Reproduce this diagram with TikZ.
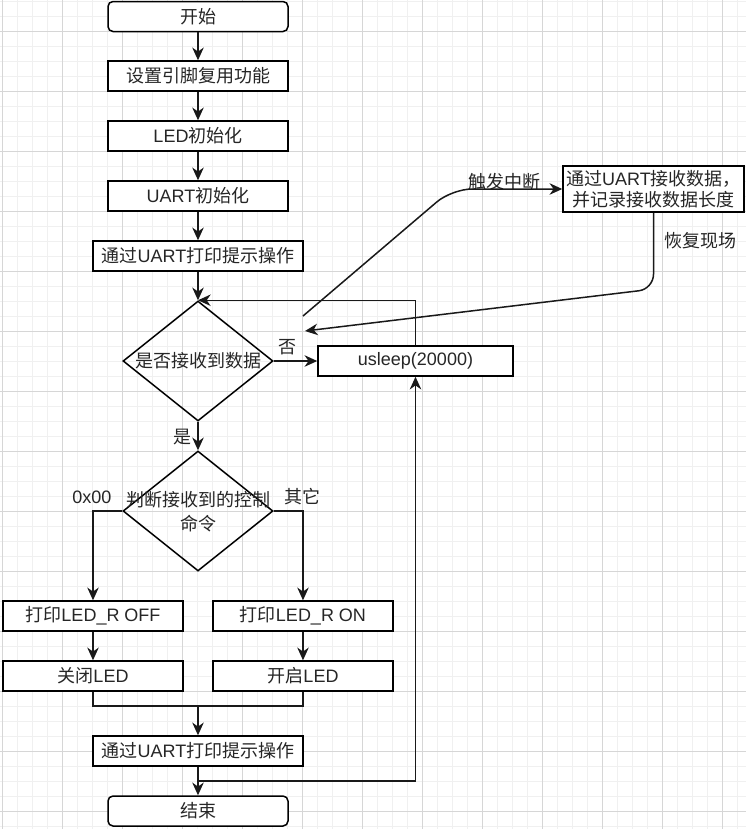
\documentclass[tikz,border=0pt]{standalone}
\usepackage{fontspec}
\setmainfont{Noto Sans CJK SC}
\newfontfamily\latf{Liberation Sans}
\usetikzlibrary{arrows.meta,shapes.geometric}
\newcommand{\pxu}{0.75pt}
\newcommand{\La}[1]{{\latf #1}}
\tikzset{
  minorgrid/.style={draw=black!6, line width=0.75pt},
  majorgrid/.style={draw=black!16, line width=0.75pt},
  box/.style={draw=black, line width=1.125pt, fill=white, minimum width=180*\pxu, minimum height=30*\pxu, inner sep=0pt, font=\fontsize{13.5pt}{16pt}\selectfont, align=center, text=black!85},
  wbox/.style={box, minimum width=210*\pxu},
  term/.style={box, rounded corners=5*\pxu},
  dia/.style={draw=black, shape=diamond, line width=1.125pt, minimum width=150*\pxu, minimum height=120*\pxu, inner sep=0pt},
  txt/.style={font=\fontsize{13.5pt}{16pt}\selectfont, inner sep=0pt, align=center, text=black!85},
  lbl/.style={txt},
  wire/.style={line width=1.125pt, draw=black!90},
  conn/.style={wire, -{Stealth[length=9.5pt,width=8.6pt,inset=3pt]}}
}
\begin{document}
\begin{tikzpicture}[x=0.75pt,y=-0.75pt]
\fill[white] (0,0) rectangle (746,829);
\useasboundingbox (0,0) rectangle (746,829);
\foreach \x in {2,17,...,746} \draw[minorgrid] (\x,0) -- (\x,829);
\foreach \y in {1,16,...,829} \draw[minorgrid] (0,\y) -- (746,\y);
\foreach \x in {2,62,...,746} \draw[majorgrid] (\x,0) -- (\x,829);
\foreach \y in {31,91,...,829} \draw[majorgrid] (0,\y) -- (746,\y);

% nodes
\node[term] (start) at (198,16.5) {开始};
\node[box] (s1) at (198,76) {设置引脚复用功能};
\node[box] (s2) at (198,136) {\La{LED}初始化};
\node[box] (s3) at (198,196) {\La{UART}初始化};
\node[wbox] (s4) at (198,256) {通过\La{UART}打印提示操作};
\node[dia] (d1) at (198,361) {};
\node[txt] (t1) at (198,361) {是否接收到数据};
\node[box, minimum width=195*\pxu] (us) at (415.5,361) {\La{usleep(20000)}};
\node[dia] (d2) at (198,511) {};
\node[txt, font=\fontsize{13.5pt}{18pt}\selectfont] (t2) at (198,512) {判断接收到的控制\\命令};
\node[box] (off1) at (93,616) {打印\La{LED\_R OFF}};
\node[box] (on1) at (303,616) {打印\La{LED\_R ON}};
\node[box] (off2) at (93,676) {关闭\La{LED}};
\node[box] (on2) at (303,676) {开启\La{LED}};
\node[wbox] (s5) at (198,751) {通过\La{UART}打印提示操作};
\node[term] (end) at (198,811) {结束};
\node[box, minimum width=181*\pxu, minimum height=46*\pxu, font=\fontsize{13.5pt}{15.75pt}\selectfont] (ib) at (653.5,189) {通过\La{UART}接收数据，\\并记录接收数据长度};

% labels
\node[lbl] (lno) at (287,347) {否};
\node[lbl] (lyes) at (182,437) {是};
\node[lbl] (lzero) at (92,497) {\La{0x00}};
\node[lbl] (lother) at (302,497) {其它};
\node[lbl] (lint) at (504,182) {触发中断};
\node[lbl] (lret) at (700,241) {恢复现场};

% free ends
\coordinate (ia) at (303,316);
\coordinate (ir) at (305,331);
\coordinate (m) at (198,706);
\coordinate (lp) at (198,781);
\coordinate (ic) at (452,189);
\coordinate (rc) at (653.5,289);

% connectors
\draw[conn] (start) -- (s1);
\draw[conn] (s1) -- (s2);
\draw[conn] (s2) -- (s3);
\draw[conn] (s3) -- (s4);
\draw[conn] (s4) -- (d1.north);
\draw[conn] (us.north) |- (d1.north);
\draw[conn] (d1.east) -- (us.west);
\draw[conn] (d1.south) -- (d2.north);
\draw[conn] (d2.west) -| (off1.north);
\draw[conn] (d2.east) -| (on1.north);
\draw[conn] (off1) -- (off2);
\draw[conn] (on1) -- (on2);
\draw[wire] (off2.south) |- (m) -| (on2.south);
\draw[conn] (m) -- (s5.north);
\draw[conn] (s5) -- (end);
\draw[conn] (lp) -| (us.south);
\draw[conn, rounded corners=15pt] (ia) -- (ic) -- (ib.west);
\draw[conn, rounded corners=11pt] (ib.south) -- (rc) -- (ir);
\end{tikzpicture}
\end{document}
